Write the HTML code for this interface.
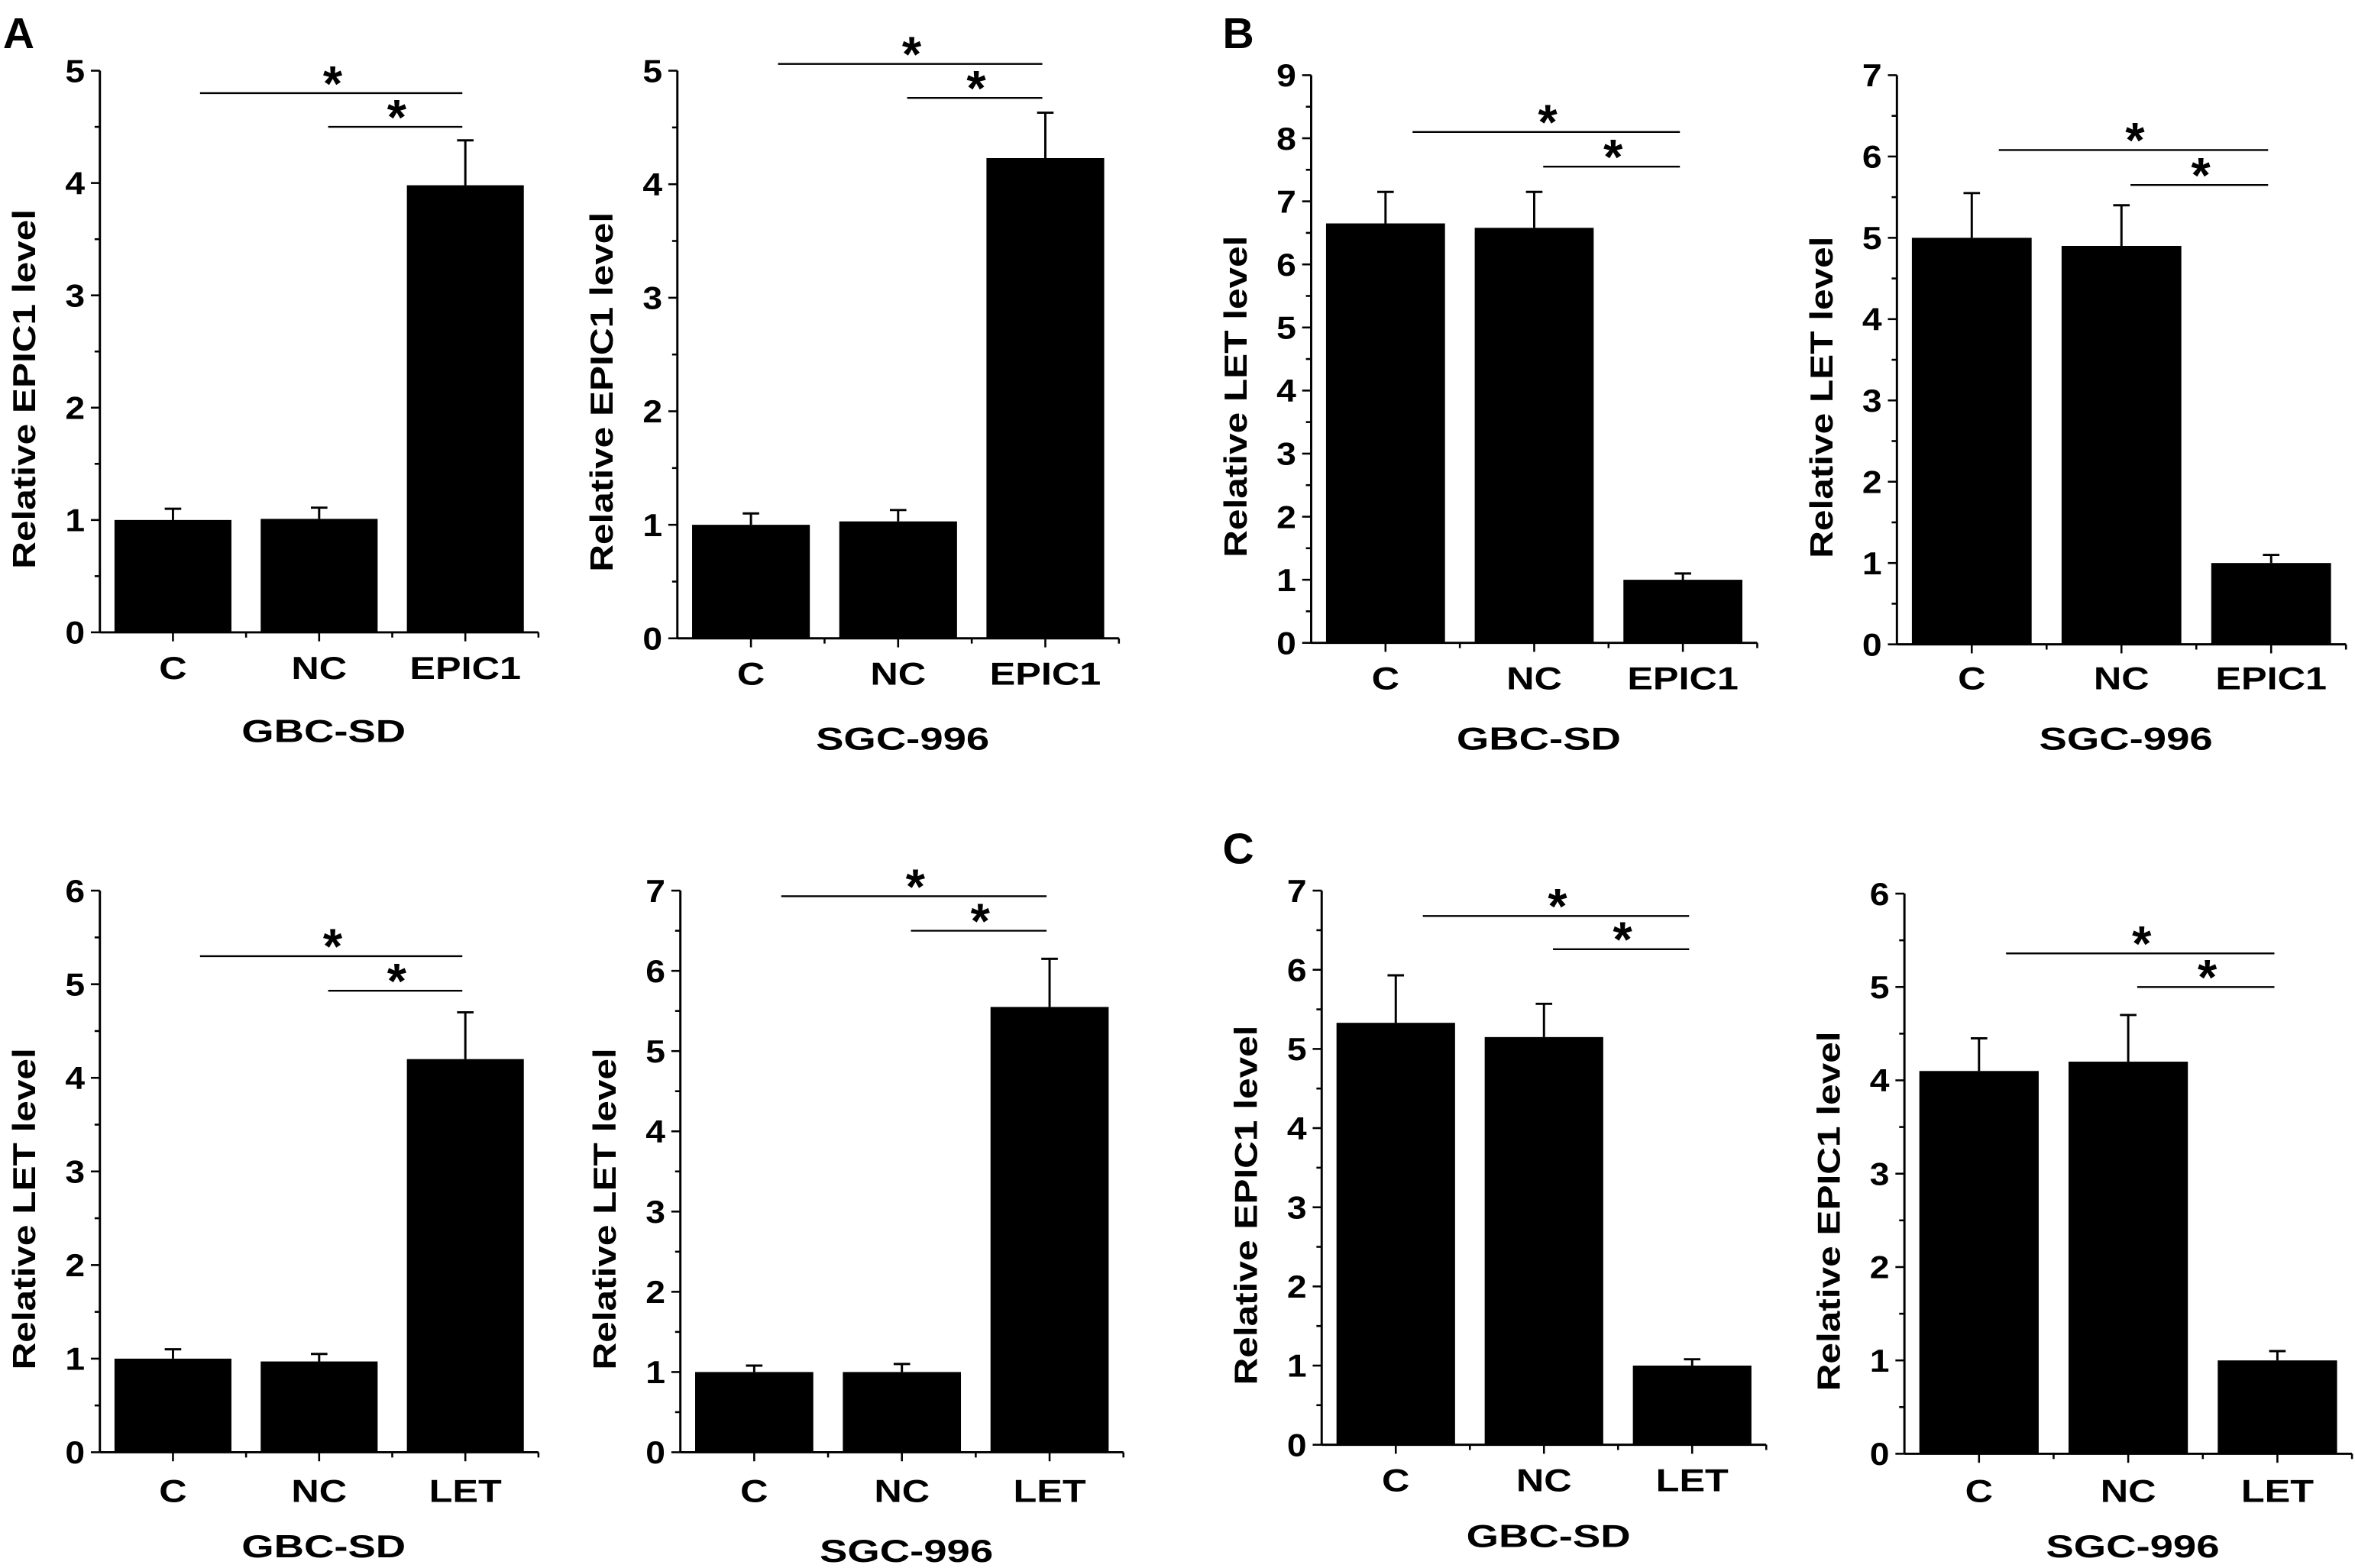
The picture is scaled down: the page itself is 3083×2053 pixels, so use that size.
<!DOCTYPE html>
<html><head><meta charset="utf-8"><style>
html,body{margin:0;padding:0;background:#fff}
svg{display:block}
text{font-family:"Liberation Sans",Arial,sans-serif;font-weight:bold;fill:#000}
</style></head>
<body>
<svg id="fig" width="3083" height="2053" viewBox="0 0 1568 1044" xmlns="http://www.w3.org/2000/svg">
<text x="2" y="32" font-size="29">A</text>
<text x="814" y="32" font-size="29">B</text>
<text x="814" y="575" font-size="29">C</text>
</svg>
<script>
const panelNames = ['a-gbc-epic1','a-sgc-epic1','b-gbc-let','b-sgc-let','a-gbc-let','a-sgc-let','c-gbc-epic1','c-sgc-epic1'];
const categoriesEPIC = ['C','NC','EPIC1'];
const categoriesLET = ['C','NC','LET'];
const cellLines = ['GBC-SD','SGC-996','GBC-SD','SGC-996','GBC-SD','SGC-996','GBC-SD','SGC-996'];
const yTitles = ['Relative EPIC1 level','Relative EPIC1 level','Relative LET level','Relative LET level','Relative LET level','Relative LET level','Relative EPIC1 level','Relative EPIC1 level'];
const yMax = [5,5,9,7,6,7,7,6];
const means = [[1.0,1.01,3.98],[1.0,1.03,4.23],[6.65,6.58,1.0],[5.0,4.9,1.0],[1.0,0.97,4.2],[1.0,1.0,5.55],[5.33,5.15,1.0],[4.1,4.2,1.0]];
const errors = [[0.1,0.1,0.4],[0.1,0.1,0.4],[0.5,0.57,0.1],[0.55,0.5,0.1],[0.1,0.08,0.5],[0.08,0.1,0.6],[0.6,0.42,0.08],[0.35,0.5,0.1]];
const sigLong = [4.8,5.06,8.1,6.08,5.3,6.93,6.68,5.36];
const sigShort = [4.5,4.76,7.55,5.65,4.93,6.5,6.26,5.0];

// layout: [axisX, axisEndX, yTopPx, yBottomPx, xLabelY, groupLabelY]
const layout = [
 [66.5,358.5,47,421,452,494],
 [451,745,47,425,456,499],
 [873,1170,50,428,459,499],
 [1263,1562,50,429,459,499],
 [66.5,358.5,593,967,1000,1037],
 [453,748,593,967,1000,1040],
 [880,1176,593,962,993,1030],
 [1268,1566,595,968,1000,1037]
];
const NS='http://www.w3.org/2000/svg';
const svg=document.getElementById('fig');
function mk(tag,attrs,parent){const e=document.createElementNS(NS,tag);for(const k in attrs)e.setAttribute(k,attrs[k]);(parent||svg).appendChild(e);return e;}
function stretch(t,k){try{const w=t.getComputedTextLength();if(w>0){t.setAttribute('textLength',w*k);t.setAttribute('lengthAdjust','spacingAndGlyphs');}}catch(e){}}

panelNames.forEach((pn,p)=>{
  const [x0,x1,yt,yb,xly,gly]=layout[p];
  const cats = p<2||p>=6 ? (p>=6?categoriesLET:categoriesEPIC) : (p<4?categoriesEPIC:categoriesLET);
  const g=mk('g',{});
  
  
  const ys=v=>yb-(v/yMax[p])*(yb-yt);
  const unit=(x1-x0)/3;
  const cx=i=>x0+(i+0.5)*unit;
  const ya=mk('line',{x1:x0,y1:yt,x2:x0,y2:yb,stroke:'#000','stroke-width':1.5},g);
  
  
  for(let v=0;v<=yMax[p];v+=0.5){
    const y=ys(v);const major=Number.isInteger(v);
    mk('line',{x1:x0-(major?6:3.5),y1:y,x2:x0,y2:y,stroke:'#000','stroke-width':1.3},g);
    if(major){const t=mk('text',{x:x0-10,y:y+7.5,'font-size':21,'text-anchor':'end'},g);t.textContent=v;
      
      
      stretch(t,1.12);}
  }
  const xa=mk('line',{x1:x0,y1:yb,x2:x1,y2:yb,stroke:'#000','stroke-width':1.5},g);
  
  
  for(let k=1;k<=6;k++){const x=x0+k*unit/2;mk('line',{x1:x,y1:yb,x2:x,y2:yb+(k%2?6:3.5),stroke:'#000','stroke-width':1.3},g);}
  cats.forEach((c,i)=>{
    const bw=unit*0.8;const top=ys(means[p][i]);
    const r=mk('rect',{x:cx(i)-bw/2,y:top,width:bw,height:yb-top,fill:'#000'},g);
    
    
    const et=ys(means[p][i]+errors[p][i]);
    const eb=mk('path',{d:`M${cx(i)} ${top} V${et} M${cx(i)-5.5} ${et} H${cx(i)+5.5}`,stroke:'#000','stroke-width':1.5,fill:'none'},g);
    
    
    const t=mk('text',{x:cx(i),y:xly,'font-size':21,'text-anchor':'middle'},g);t.textContent=c;
    
    
    stretch(t,1.22);
  });
  [[sigLong[p],cx(0)+18],[sigShort[p],cx(1)+6]].forEach(([v,xs],j)=>{
    const y=ys(v);
    const l=mk('line',{x1:xs,y1:y,x2:cx(2)-2,y2:y,stroke:'#000','stroke-width':1.2},g);
    
    
    const s=mk('text',{x:(xs+cx(2))/2,y:y+5,'font-size':33,'text-anchor':'middle'},g);s.textContent='*';
    
    
  });
  const gt=mk('text',{x:(x0+x1)/2+3,y:gly,'font-size':21,'text-anchor':'middle'},g);gt.textContent=cellLines[p];
  
  
  stretch(gt,1.32);
  const yc=(yt+yb)/2+25;const tx=x0-43;
  const tt=mk('text',{x:tx,y:yc,'font-size':21,'text-anchor':'middle',transform:`rotate(-90 ${tx} ${yc})`},g);tt.textContent=yTitles[p];
  
  
  stretch(tt,1.2);
});
</script>
</body></html>
